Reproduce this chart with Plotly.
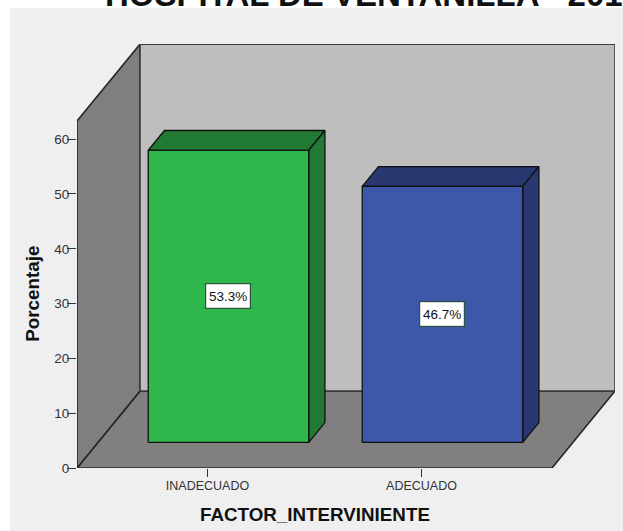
import plotly.graph_objects as go

# Chart data
categories = ["INADECUADO", "ADECUADO"]
percentages = [53.3, 46.7]
y_ticks = [0, 10, 20, 30, 40, 50, 60]
title_text = "HOSPITAL DE VENTANILLA - 201"
x_title = "FACTOR_INTERVINIENTE"
y_title = "Porcentaje"

# Page and plot area in pixels
W, H = 623, 531
PLOT_L, PLOT_R, PLOT_T, PLOT_B = 77, 615, 44, 468.5
PX_PER_CAT = 214.0
PX_PER_PCT = 5.487

# Oblique projection: one full unit of depth, expressed in axis units
DEPTH_X = 63 / PX_PER_CAT
DEPTH_Y = 77 / PX_PER_PCT

X_MIN = -130.5 / PX_PER_CAT
X_MAX = X_MIN + (PLOT_R - PLOT_L) / PX_PER_CAT
FLOOR_RIGHT = 1 + 130.5 / PX_PER_CAT
WALL_TOP = 63.3
BAR_HALF = 0.375
BAR_D0, BAR_D1 = 0.333, 0.59


def project(cat, value, depth):
    return cat + depth * DEPTH_X, value + depth * DEPTH_Y


def paper_x(px):
    return (px - PLOT_L) / (PLOT_R - PLOT_L)


def paper_y(px):
    return (PLOT_B - px) / (PLOT_B - PLOT_T)


def face(points, fill, line="#262626", width=1.6):
    xs, ys = zip(*[project(*p) for p in points + points[:1]])
    return go.Scatter(
        x=xs, y=ys, mode="lines", fill="toself", fillcolor=fill,
        line=dict(color=line, width=width), hoverinfo="skip",
        showlegend=False, cliponaxis=False,
    )


fig = go.Figure()

# Chart box: floor, left wall and back wall
fig.add_trace(face([(X_MIN, 0, 0), (FLOOR_RIGHT, 0, 0), (FLOOR_RIGHT, 0, 1), (X_MIN, 0, 1)], "#808080"))
fig.add_trace(face([(X_MIN, 0, 0), (X_MIN, WALL_TOP, 0), (X_MIN, WALL_TOP, 1), (X_MIN, 0, 1)], "#7f7f7f"))
fig.add_trace(face([(X_MIN, 0, 1), (X_MIN, WALL_TOP, 1), (FLOOR_RIGHT, WALL_TOP, 1), (FLOOR_RIGHT, 0, 1)], "#bebebe", "#3a3a3a"))

# Each bar is three visible faces of a box
bar_colors = [("#2eb84b", "#207a33"), ("#3d57a9", "#293871")]
for i, value in enumerate(percentages):
    front, shade = bar_colors[i]
    left, right = i - BAR_HALF, i + BAR_HALF
    fig.add_trace(face([(left, value, BAR_D0), (right, value, BAR_D0), (right, value, BAR_D1), (left, value, BAR_D1)], shade, "#111111", 1.3))
    fig.add_trace(face([(right, 0, BAR_D0), (right, value, BAR_D0), (right, value, BAR_D1), (right, 0, BAR_D1)], shade, "#111111", 1.3))
    fig.add_trace(face([(left, 0, BAR_D0), (right, 0, BAR_D0), (right, value, BAR_D0), (left, value, BAR_D0)], front, "#111111", 1.3))
    lx, ly = project(i, value / 2, BAR_D0)
    fig.add_annotation(
        x=lx, y=ly, text=f"{value}%", showarrow=False,
        font=dict(family="Liberation Sans", size=13.5, color="#111111"),
        bgcolor="white", bordercolor="#2f4f3f", borderwidth=1.2, borderpad=2,
        width=40, height=20,
    )

fig.update_layout(
    width=W, height=H,
    margin=dict(l=PLOT_L, r=W - PLOT_R, t=PLOT_T, b=H - PLOT_B, autoexpand=False),
    paper_bgcolor="white", plot_bgcolor="rgba(0,0,0,0)",
    xaxis=dict(
        range=[X_MIN, X_MAX], tickmode="array", tickvals=[0, 1], ticktext=categories,
        ticks="outside", ticklen=8, tickwidth=1.3, tickcolor="#333333", ticklabelstandoff=-2,
        tickfont=dict(family="Liberation Sans", size=12.5, color="#333333"),
        showgrid=False, zeroline=False, showline=False,
    ),
    yaxis=dict(
        range=[0, (PLOT_B - PLOT_T) / PX_PER_PCT], tickmode="array", tickvals=y_ticks,
        ticks="outside", ticklen=9, tickwidth=1.3, tickcolor="#333333", ticklabelstandoff=-5,
        tickfont=dict(family="Liberation Sans", size=13.5, color="#333333"),
        showgrid=False, zeroline=False, showline=False,
    ),
    font=dict(family="Liberation Sans"),
    shapes=[dict(
        type="rect", layer="below", xref="paper", yref="paper",
        x0=paper_x(10), x1=paper_x(W + 5), y0=paper_y(H + 5), y1=paper_y(8),
        fillcolor="#efefef", line_width=0,
    )],
)

# Axis titles, centred on the categories and on the lower part of the value axis
fig.add_annotation(
    xref="x", yref="paper", x=0.5, y=paper_y(515), xanchor="center", yanchor="middle",
    text=f"<b>{x_title}</b>", showarrow=False,
    font=dict(family="Liberation Sans", size=18.8, color="#111111"),
)
fig.add_annotation(
    xref="paper", yref="paper", x=paper_x(33), y=paper_y(294), xanchor="center", yanchor="middle",
    text=f"<b>{y_title}</b>", textangle=-90, showarrow=False,
    font=dict(family="Liberation Sans", size=18.8, color="#111111"),
)

# Page heading, running off the top edge of the sheet
fig.add_annotation(
    xref="paper", yref="paper", x=paper_x(103), y=paper_y(14.5),
    xanchor="left", yanchor="bottom",
    text=f"<b>{title_text}</b>", showarrow=False,
    font=dict(family="Liberation Sans", size=33, color="#111111"),
)

fig.write_html("out.html")
